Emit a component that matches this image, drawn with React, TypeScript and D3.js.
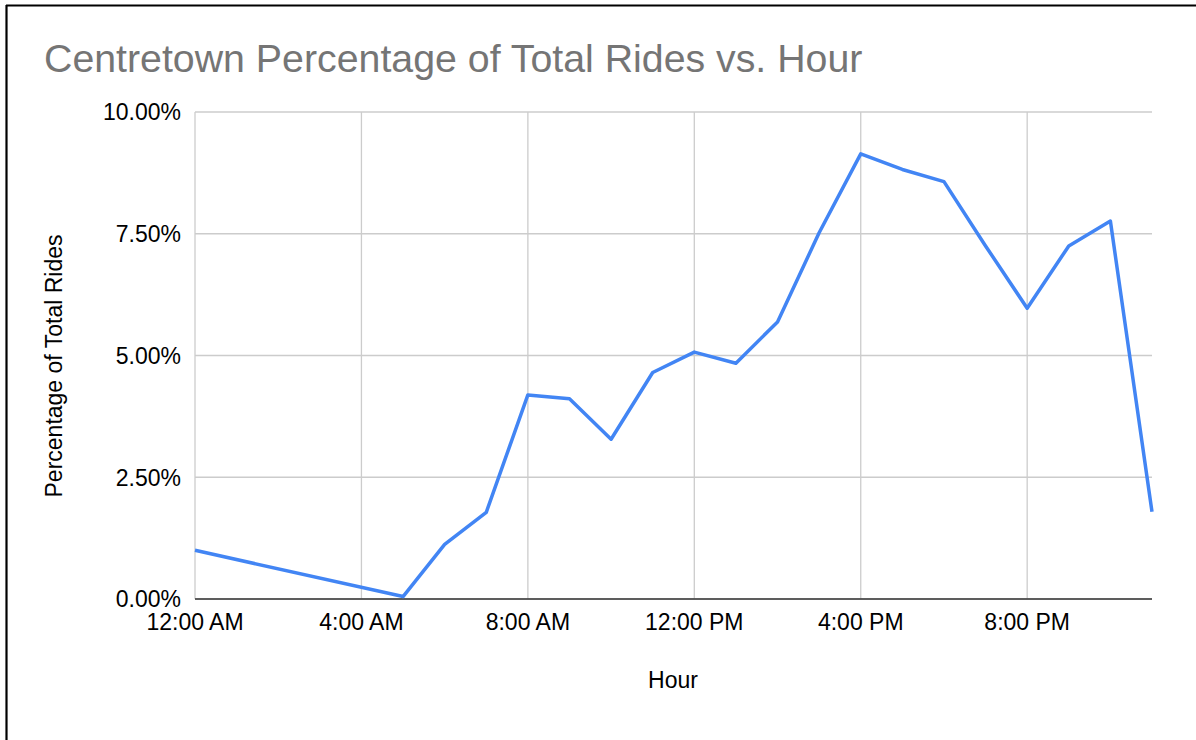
import React from "react";
import * as d3 from "d3";

const hours: number[] = [0, 5, 6, 7, 8, 9, 10, 11, 12, 13, 14, 15, 16, 17, 18, 19, 20, 21, 22, 23];
const pct: number[] = [1.0, 0.05, 1.12, 1.78, 4.19, 4.11, 3.28, 4.65, 5.07, 4.84, 5.69, 7.52, 9.14, 8.82, 8.57, 7.25, 5.97, 7.25, 7.76, 1.79];
const xTickHours: number[] = [0, 4, 8, 12, 16, 20];
const xTickLabels: string[] = ["12:00 AM", "4:00 AM", "8:00 AM", "12:00 PM", "4:00 PM", "8:00 PM"];
const yTicks: number[] = [0, 2.5, 5, 7.5, 10];

const W = 1196;
const H = 740;
const L = 195, R = 1152, T = 112, B = 599;
const FONT = "'Liberation Sans', Arial, Helvetica, sans-serif";

export default function App() {
  const x = d3.scaleLinear().domain([0, 23]).range([L, R]);
  const y = d3.scaleLinear().domain([0, 10]).range([B, T]);
  const line = d3
    .line<number>()
    .x((_, i) => x(hours[i]))
    .y((d) => y(d));

  return (
    <div style={{ position: "fixed", left: 0, top: 0 }}>
      <svg width={W} height={H} style={{ display: "block", background: "#fff" }}>
        <rect x={0} y={0} width={W} height={H} fill="#fff" />
        {/* frame */}
        <line x1={6} y1={5.5} x2={W} y2={5.5} stroke="#000" strokeWidth={2.2} />
        <line x1={6.5} y1={5} x2={6.5} y2={H} stroke="#000" strokeWidth={2.2} />

        <text x={44} y={71.5} fontFamily={FONT} fontSize={39.3} fill="#757575">
          Centretown Percentage of Total Rides vs. Hour
        </text>

        {/* horizontal gridlines */}
        {yTicks.map((t) => (
          <line key={"h" + t} x1={L} x2={R} y1={y(t)} y2={y(t)} stroke="#cccccc" strokeWidth={1.3} />
        ))}
        {/* vertical gridlines */}
        {xTickHours.map((h) => (
          <line key={"v" + h} x1={x(h)} x2={x(h)} y1={T} y2={B} stroke="#cccccc" strokeWidth={1.3} />
        ))}
        {/* baseline */}
        <line x1={L} x2={R} y1={B} y2={B} stroke="#333333" strokeWidth={1.5} />

        {/* y tick labels */}
        {yTicks.map((t) => (
          <text
            key={"yl" + t}
            x={L - 14}
            y={y(t)}
            dy="0.36em"
            textAnchor="end"
            fontFamily={FONT}
            fontSize={23}
            fill="#000"
          >
            {d3.format(".2f")(t) + "%"}
          </text>
        ))}
        {/* x tick labels */}
        {xTickHours.map((h, i) => (
          <text
            key={"xl" + h}
            x={x(h)}
            y={630}
            textAnchor="middle"
            fontFamily={FONT}
            fontSize={23}
            fill="#000"
          >
            {xTickLabels[i]}
          </text>
        ))}

        {/* axis titles */}
        <text x={673} y={688} textAnchor="middle" fontFamily={FONT} fontSize={23} fill="#000">
          Hour
        </text>
        <text
          transform={`translate(62, 366) rotate(-90)`}
          textAnchor="middle"
          fontFamily={FONT}
          fontSize={23}
          fill="#000"
        >
          Percentage of Total Rides
        </text>

        {/* data line */}
        <path d={line(pct) || ""} fill="none" stroke="#4285f4" strokeWidth={3.5} strokeLinejoin="round" />
      </svg>
    </div>
  );
}
